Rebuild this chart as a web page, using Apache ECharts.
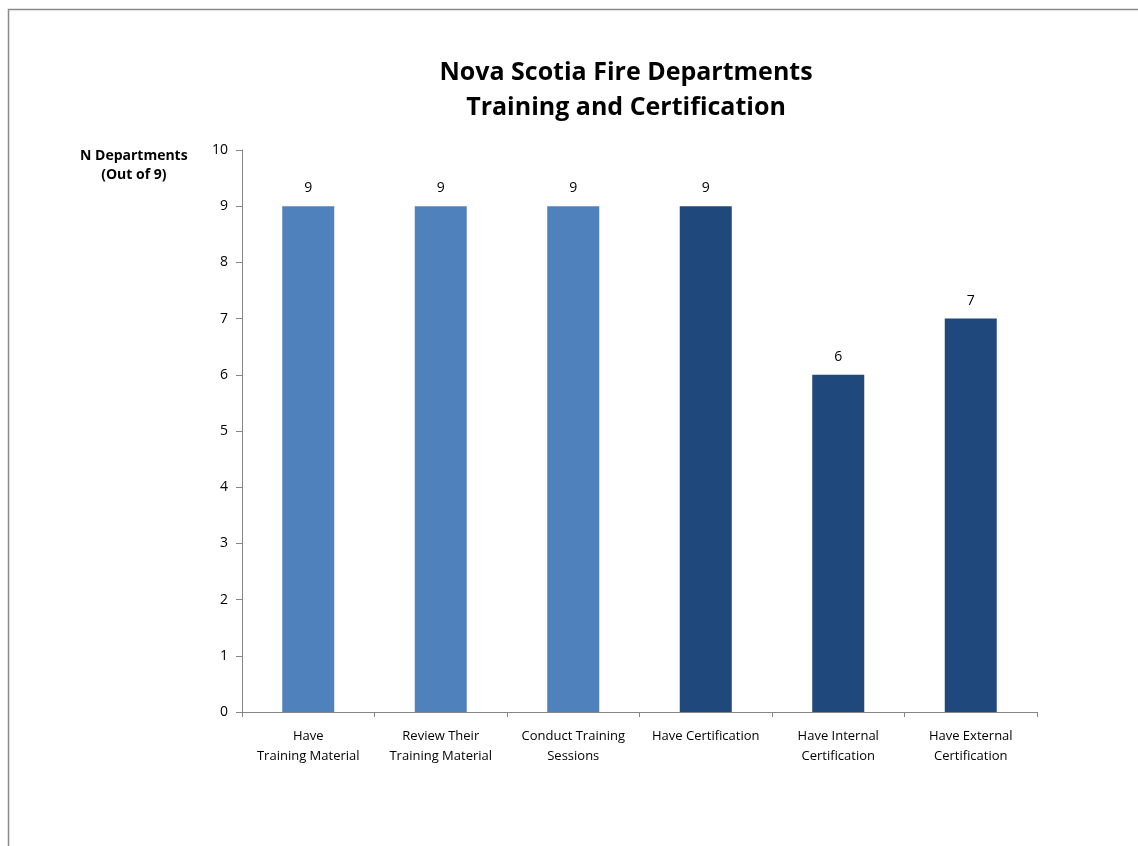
<!DOCTYPE html>
<html><head><meta charset="utf-8">
<script src="https://cdn.jsdelivr.net/npm/echarts@6/dist/echarts.min.js"></script>
<style>html,body{margin:0;padding:0;background:#fff}#c{width:1138px;height:846px}</style>
</head><body><div id="c"></div>
<script>
const categories = ["Have\nTraining Material", "Review Their\nTraining Material", "Conduct Training\nSessions", "Have Certification", "Have Internal\nCertification", "Have External\nCertification"];
const values = [9, 9, 9, 9, 6, 7];
const barColors = ["#4F81BD", "#4F81BD", "#4F81BD", "#1F497D", "#1F497D", "#1F497D"];
const titleText = "Nova Scotia Fire Departments\nTraining and Certification";
const yAxisLabel = "N Departments\n(Out of 9)";
const font = "'Open Sans', 'Noto Sans', sans-serif";

const chart = echarts.init(document.getElementById('c'), null, {renderer: 'canvas'});
chart.setOption({
  backgroundColor: '#fff',
  animation: false,
  title: {
    text: titleText, left: 621, top: 50, textAlign: 'center',
    textStyle: {fontFamily: font, fontSize: 25, fontWeight: 'bold', color: '#000', lineHeight: 35}
  },
  graphic: [
    {type: 'polyline', shape: {points: [[8.5, 846], [8.5, 9.5], [1138, 9.5]]}, style: {stroke: '#8a8a8a', lineWidth: 1.5, fill: null}},
    {type: 'text', left: 80, top: 147, style: {text: yAxisLabel, font: 'bold 14px ' + font, fill: '#000', textAlign: 'center', lineHeight: 19, x: 0}}
  ],
  grid: {left: 242, right: 101, top: 150, bottom: 134, containLabel: false},
  xAxis: {
    type: 'category', data: categories,
    axisLine: {lineStyle: {color: '#868686'}},
    axisTick: {show: true, alignWithLabel: false, length: 5, lineStyle: {color: '#868686'}},
    axisLabel: {fontFamily: font, fontSize: 13, color: '#000', lineHeight: 20, margin: 14, interval: 0}
  },
  yAxis: {
    type: 'value', min: 0, max: 10, interval: 1,
    axisLine: {show: true, lineStyle: {color: '#868686'}},
    axisTick: {show: true, length: 6, lineStyle: {color: '#868686'}},
    splitLine: {show: false},
    axisLabel: {fontFamily: font, fontSize: 14, color: '#000', margin: 14}
  },
  series: [{
    type: 'bar', barWidth: 52,
    data: values.map((v, i) => ({value: v, itemStyle: {color: barColors[i]}})),
    label: {show: true, position: 'top', distance: 11, fontFamily: font, fontSize: 14, color: '#000'}
  }]
});
</script></body></html>
